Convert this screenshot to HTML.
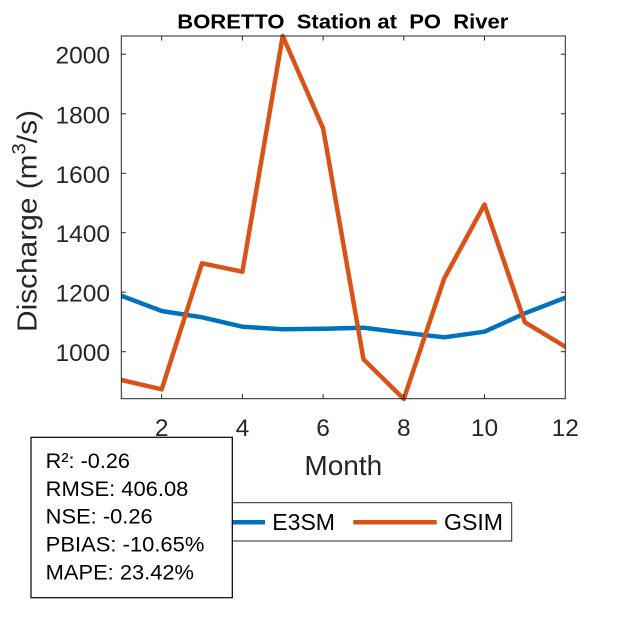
<!DOCTYPE html>
<html>
<head>
<meta charset="utf-8">
<style>
  html, body { margin: 0; padding: 0; background: #ffffff; }
  svg { display: block; }
  text { font-family: "Liberation Sans", Arial, sans-serif; }
</style>
</head>
<body>
<svg width="625" height="625" viewBox="0 0 625 625" xmlns="http://www.w3.org/2000/svg">
  <rect x="0" y="0" width="625" height="625" fill="#ffffff"/>
  <defs>
    <clipPath id="clipx">
      <rect x="121" y="20" width="444.5" height="390"/>
    </clipPath>
  </defs>

  <!-- Title -->
  <text x="177.3" y="28.3" font-size="20.5" font-weight="bold" fill="#000" style="white-space:pre" textLength="331" lengthAdjust="spacingAndGlyphs">BORETTO  Station at  PO  River</text>

  <!-- Data lines -->
  <g clip-path="url(#clipx)" fill="none" stroke-width="4.5" stroke-linejoin="round" stroke-linecap="round">
    <polyline stroke="#0072BD" points="121.3,295.7 161.7,311 202.0,317.3 242.4,326.7 282.7,329.3 323.1,328.7 363.5,327.7 403.8,332.7 444.2,337.3 484.5,331.7 524.9,313.3 565.3,297.7"/>
    <polyline stroke="#D95319" points="121.3,380 161.7,389.3 202.0,263.3 242.4,271.7 282.7,36 323.1,128.3 363.5,359.3 403.8,399 444.2,278.5 484.5,204.5 524.9,322.3 565.3,346.7"/>
  </g>

  <!-- Axes box -->
  <rect x="121.3" y="36" width="444" height="362.7" fill="none" stroke="#262626" stroke-width="1"/>

  <!-- X ticks (bottom & top) -->
  <g stroke="#262626" stroke-width="1">
    <line x1="161.7" y1="398.7" x2="161.7" y2="394.2"/>
    <line x1="242.4" y1="398.7" x2="242.4" y2="394.2"/>
    <line x1="323.1" y1="398.7" x2="323.1" y2="394.2"/>
    <line x1="403.8" y1="398.7" x2="403.8" y2="394.2"/>
    <line x1="484.5" y1="398.7" x2="484.5" y2="394.2"/>
    <line x1="161.7" y1="36" x2="161.7" y2="40.5"/>
    <line x1="242.4" y1="36" x2="242.4" y2="40.5"/>
    <line x1="323.1" y1="36" x2="323.1" y2="40.5"/>
    <line x1="403.8" y1="36" x2="403.8" y2="40.5"/>
    <line x1="484.5" y1="36" x2="484.5" y2="40.5"/>
    <!-- Y ticks left & right -->
    <line x1="121.3" y1="351.7" x2="125.8" y2="351.7"/>
    <line x1="121.3" y1="292.2" x2="125.8" y2="292.2"/>
    <line x1="121.3" y1="232.7" x2="125.8" y2="232.7"/>
    <line x1="121.3" y1="173.3" x2="125.8" y2="173.3"/>
    <line x1="121.3" y1="113.8" x2="125.8" y2="113.8"/>
    <line x1="121.3" y1="54.2" x2="125.8" y2="54.2"/>
    <line x1="565.3" y1="351.7" x2="560.8" y2="351.7"/>
    <line x1="565.3" y1="292.2" x2="560.8" y2="292.2"/>
    <line x1="565.3" y1="232.7" x2="560.8" y2="232.7"/>
    <line x1="565.3" y1="173.3" x2="560.8" y2="173.3"/>
    <line x1="565.3" y1="113.8" x2="560.8" y2="113.8"/>
    <line x1="565.3" y1="54.2" x2="560.8" y2="54.2"/>
  </g>

  <!-- X tick labels -->
  <g font-size="24.5" fill="#262626" text-anchor="middle">
    <text x="161.7" y="436">2</text>
    <text x="242.4" y="436">4</text>
    <text x="323.1" y="436">6</text>
    <text x="403.8" y="436">8</text>
    <text x="484.5" y="436">10</text>
    <text x="565.3" y="436">12</text>
  </g>

  <!-- Y tick labels -->
  <g font-size="24.5" fill="#262626" text-anchor="end">
    <text x="110" y="361.2">1000</text>
    <text x="110" y="301.7">1200</text>
    <text x="110" y="242.2">1400</text>
    <text x="110" y="182.8">1600</text>
    <text x="110" y="123.3">1800</text>
    <text x="110" y="63.7">2000</text>
  </g>

  <!-- X label -->
  <text x="343.3" y="475" font-size="28" fill="#262626" text-anchor="middle">Month</text>

  <!-- Y label -->
  <text transform="translate(36.5,221) rotate(-90)" x="0" y="0" font-size="28" fill="#262626" text-anchor="middle" textLength="222" lengthAdjust="spacingAndGlyphs">Discharge (m<tspan font-size="19" dy="-11">3</tspan><tspan dy="11">/s)</tspan></text>

  <!-- Legend -->
  <rect x="172" y="502.7" width="339.7" height="38.3" fill="#ffffff" stroke="#262626" stroke-width="1"/>
  <line x1="182" y1="522.3" x2="265" y2="522.3" stroke="#0072BD" stroke-width="4.5"/>
  <text x="272.3" y="530" font-size="23" fill="#000" textLength="62.7" lengthAdjust="spacingAndGlyphs">E3SM</text>
  <line x1="353.3" y1="522.3" x2="436.7" y2="522.3" stroke="#D95319" stroke-width="4.5"/>
  <text x="444" y="530" font-size="23" fill="#000" textLength="59" lengthAdjust="spacingAndGlyphs">GSIM</text>

  <!-- Stats box -->
  <rect x="31" y="437.3" width="201.3" height="160.4" fill="#ffffff" stroke="#000" stroke-width="1.2"/>
  <g font-size="21" fill="#000">
    <text x="45.7" y="468" textLength="84.3" lengthAdjust="spacingAndGlyphs">R²: -0.26</text>
    <text x="45.7" y="495.9" textLength="142.7" lengthAdjust="spacingAndGlyphs">RMSE: 406.08</text>
    <text x="45.7" y="523.7" textLength="107" lengthAdjust="spacingAndGlyphs">NSE: -0.26</text>
    <text x="45.7" y="551.6" textLength="158.7" lengthAdjust="spacingAndGlyphs">PBIAS: -10.65%</text>
    <text x="45.7" y="579.4" textLength="148.3" lengthAdjust="spacingAndGlyphs">MAPE: 23.42%</text>
  </g>
</svg>
</body>
</html>
